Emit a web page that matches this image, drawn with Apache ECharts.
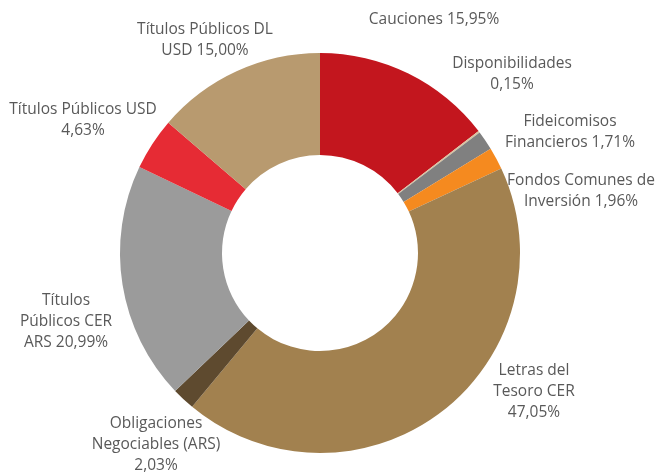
<!DOCTYPE html>
<html>
<head>
<meta charset="utf-8">
<script src="https://cdn.jsdelivr.net/npm/echarts@6/dist/echarts.min.js"></script>
<style>
  html, body { margin: 0; padding: 0; background: #ffffff; }
  #chart { width: 656px; height: 473px; }
</style>
</head>
<body>
<div id="chart"></div>
<script>
// Portfolio composition by instrument (%)
const categories = [
  'Cauciones',
  'Disponibilidades',
  'Fideicomisos\nFinancieros',
  'Fondos Comunes de\nInversión',
  'Letras del\nTesoro CER',
  'Obligaciones\nNegociables (ARS)',
  'Títulos\nPúblicos CER\nARS',
  'Títulos Públicos USD',
  'Títulos Públicos DL\nUSD'
];
const values = [15.95, 0.15, 1.71, 1.96, 47.05, 2.03, 20.99, 4.63, 15.00];
// separator placed between the name and the percentage in each label
const valueSeparators = [' ', '\n', ' ', ' ', '\n', '\n', ' ', '\n', ' '];

const sliceColors = ['#C3161E', '#D8C3A0', '#808080', '#F58A1F', '#A2814F', '#5E4A2F', '#9B9B9B', '#E62B34', '#B89A6F'];
// label centres (px) around the ring
const labelCenters = [
  [434, 20], [512, 74], [570, 132], [581, 191], [534, 392],
  [156, 445], [66, 322], [83, 120], [205, 40]
];

const fmt = v => v.toFixed(2).replace('.', ',') + '%';

const chart = echarts.init(document.getElementById('chart'), null, { renderer: 'canvas' });
chart.setOption({
  animation: false,
  backgroundColor: '#ffffff',
  series: [{
    type: 'pie',
    center: [320, 253],
    radius: [98, 200],
    startAngle: 90,
    clockwise: true,
    avoidLabelOverlap: false,
    itemStyle: { borderWidth: 0 },
    label: {
      show: true,
      position: 'outside',
      fontFamily: '"Open Sans", sans-serif',
      fontSize: 15.5,
      lineHeight: 21,
      color: '#595959',
      align: 'center',
      formatter: p => categories[p.dataIndex] + valueSeparators[p.dataIndex] + fmt(p.value)
    },
    labelLine: { show: false },
    labelLayout: p => ({
      x: labelCenters[p.dataIndex][0],
      y: labelCenters[p.dataIndex][1],
      align: 'center',
      verticalAlign: 'middle'
    }),
    data: values.map((v, i) => ({
      name: categories[i].replace(/\n/g, ' '),
      value: v,
      itemStyle: { color: sliceColors[i] }
    }))
  }]
});
</script>
</body>
</html>
